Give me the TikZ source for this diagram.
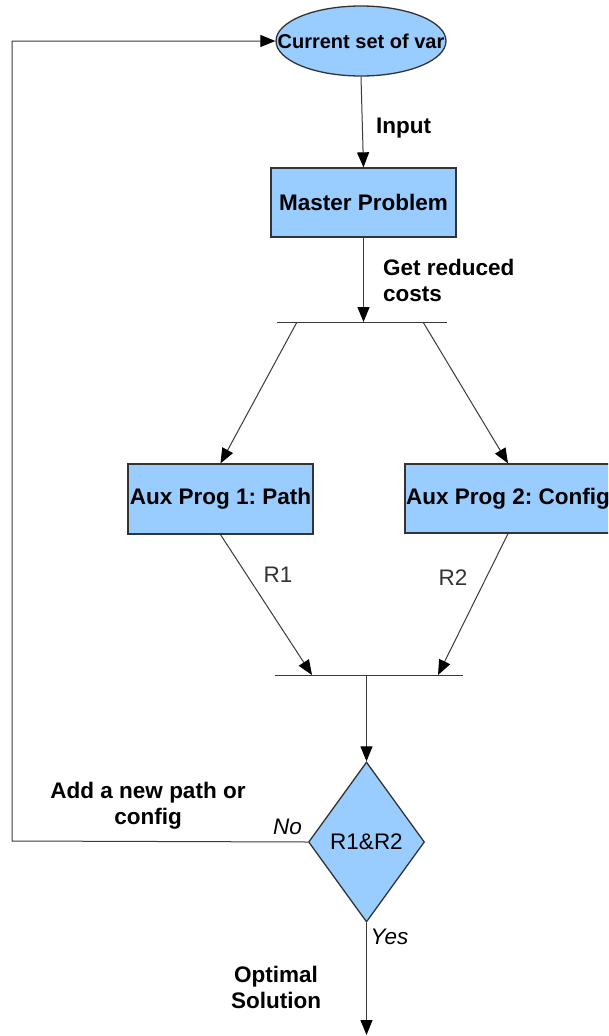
\documentclass[tikz,border=0pt]{standalone}
\usepackage{fontspec}
\setmainfont{Liberation Sans}
\usetikzlibrary{arrows.meta,shapes.geometric}
\definecolor{boxfill}{HTML}{99CCFF}
\definecolor{edgegray}{HTML}{333333}
\definecolor{linegray}{HTML}{3A3A3A}
\frenchspacing
\begin{document}
\begin{tikzpicture}[x=1pt,y=-1pt,
  every node/.style={font=\fontsize{22.5}{26}\selectfont},
  blockbox/.style={draw=edgegray, line width=1.3pt, fill=boxfill, inner sep=0pt,
    font=\fontsize{22.5}{26}\selectfont\bfseries},
  termshape/.style={ellipse, draw=edgegray, line width=1.3pt, fill=boxfill, inner sep=0pt,
    minimum width=170pt, minimum height=70pt, font=\fontsize{20}{24}\selectfont\bfseries},
  decide/.style={diamond, draw=edgegray, line width=1.3pt, fill=boxfill, inner sep=0pt,
    minimum width=116pt, minimum height=160pt},
  conn/.style={draw=linegray, line width=1pt},
  arr/.style={conn, -{Triangle[length=15pt,width=12pt,color=black]}},
  boldlab/.style={font=\fontsize{22.5}{26}\selectfont\bfseries, inner sep=0pt},
  itlab/.style={font=\fontsize{22.5}{26}\selectfont\itshape, inner sep=0pt},
  plainlab/.style={font=\fontsize{22.5}{26}\selectfont, text=edgegray, inner sep=0pt}
]
\useasboundingbox (0,0) rectangle (608,1036);
\clip (0,0) rectangle (608,1036);

% nodes
\node[termshape] (cur) at (361,41) {\makebox[0pt]{Current set of var}};
\node[blockbox, minimum width=185pt, minimum height=69pt] (master) at (363.5,202.5) {Master Problem};
\node[blockbox, minimum width=185pt, minimum height=70pt] (aux1) at (220.5,499) {Aux Prog 1: Path};
\node[blockbox, minimum width=206pt, minimum height=69pt] (aux2) at (508,498.5) {\makebox[0pt]{Aux Prog 2: Config}};
\node[decide] (dia) at (366.5,842) {R1\&R2};

% bar coordinates
\coordinate (b1l) at (277,322);
\coordinate (b1r) at (447,322);
\coordinate (b1m) at (363.5,322);
\coordinate (b1a) at (297,322);
\coordinate (b1b) at (423,322);
\coordinate (b2l) at (275,675);
\coordinate (b2r) at (463,675);
\coordinate (b2a) at (312,675);
\coordinate (b2b) at (438,675);
\coordinate (b2m) at (366.5,675);
\coordinate (fbb) at (12,841);
\coordinate (fbt) at (12,41);
\coordinate (outend) at (366.5,1035);

% bars
\draw[conn] (b1l) -- (b1r);
\draw[conn] (b2l) -- (b2r);

% connectors
\draw[arr] (cur.south) -- (master.north);
\draw[arr] (master.south) -- (b1m);
\draw[arr] (b1a) -- (aux1.north);
\draw[arr] (b1b) -- (aux2.north);
\draw[arr] (aux1.south) -- (b2a);
\draw[arr] (aux2.south) -- (b2b);
\draw[arr] (b2m) -- (dia.north);
\draw[arr] (dia.west) -- (fbb) -- (fbt) -- (cur.west);
\draw[arr] (dia.south) -- (outend);

% labels
\node[boldlab, anchor=west] (linput) at (376,128) {Input};
\node[boldlab, anchor=west, align=left] (lgrc) at (383,280) {Get reduced\\costs};
\node[plainlab] (lr1) at (278,575) {R1};
\node[plainlab] (lr2) at (453,578) {R2};
\node[boldlab, align=center] (ladd) at (148,806) {Add a new path or\\config};
\node[itlab] (lno) at (287.5,827) {No};
\node[itlab] (lyes) at (389.5,937) {Yes};
\node[boldlab, align=center] (lopt) at (276,987) {Optimal\\Solution};
\end{tikzpicture}
\end{document}
